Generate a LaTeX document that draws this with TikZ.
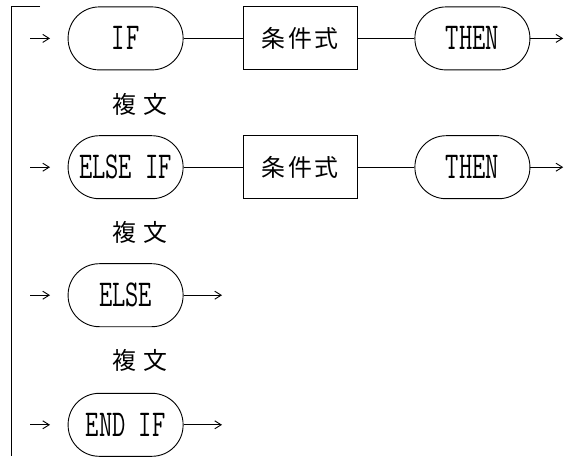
\documentclass[tikz,border=0pt]{standalone}
\usepackage{fontspec}
\newfontfamily\codefont[FakeStretch=0.68]{Latin Modern Mono}
\newfontfamily\jpfont{Noto Sans CJK JP}
\usetikzlibrary{arrows.meta, positioning}
\tikzset{
  keyword/.style={
    draw, rounded corners=7.8mm, line width=0.65pt,
    minimum width=2.875cm, minimum height=1.575cm, inner sep=0pt,
    font=\codefont\fontsize{27}{29}\selectfont
  },
  condbox/.style={
    draw, line width=0.65pt,
    minimum width=2.85cm, minimum height=1.575cm, inner sep=0pt,
    font=\jpfont\fontsize{17}{20}\selectfont
  },
  bodylabel/.style={
    font=\jpfont\fontsize{17}{20}\selectfont
  },
  flowline/.style={line width=0.65pt},
  flowarrow/.style={
    -{Straight Barb[length=1.6mm, width=2mm]}, line width=0.65pt
  },
}

\begin{document}
\begin{tikzpicture}
  \useasboundingbox (0,0) rectangle (14.15,-11.4);

  % ── Left bracket ───────────────────────────────────────────────
  \coordinate (brtop)  at (0.275,-0.15);
  \coordinate (brend)  at (1.0,-0.15);
  \coordinate (brfoot) at (0.275,-11.4);
  \draw[flowline] (brend) -- (brtop) -- (brfoot);

  % ── IF ... 条件式 ... THEN ─────────────────────────────────────
  \node[keyword] (if)    at (3.14,-0.96)  {I\kern1pt F};
  \node[condbox] (cond1) at (7.5,-0.96)   {条\kern2pt 件\kern2pt 式};
  \node[keyword] (then1) at (11.81,-0.96) {THEN};
  \coordinate (in1)  at (0.75,-0.96);
  \coordinate (in1e) at (1.25,-0.96);
  \coordinate (out1) at (14.08,-0.96);
  \draw[flowarrow] (in1) -- (in1e);
  \draw[flowline] (if) -- (cond1);
  \draw[flowline] (cond1) -- (then1);
  \draw[flowarrow] (then1) -- (out1);

  \node[bodylabel] (body1) at (3.5,-2.62) {複\kern5pt 文};

  % ── ELSE IF ... 条件式 ... THEN ────────────────────────────────
  \node[keyword] (elseif) at (3.14,-4.18)  {ELSE IF};
  \node[condbox] (cond2)  at (7.5,-4.18)   {条\kern2pt 件\kern2pt 式};
  \node[keyword] (then2)  at (11.81,-4.18) {THEN};
  \coordinate (in2)  at (0.75,-4.18);
  \coordinate (in2e) at (1.25,-4.18);
  \coordinate (out2) at (14.08,-4.18);
  \draw[flowarrow] (in2) -- (in2e);
  \draw[flowline] (elseif) -- (cond2);
  \draw[flowline] (cond2) -- (then2);
  \draw[flowarrow] (then2) -- (out2);

  \node[bodylabel] (body2) at (3.5,-5.8) {複\kern5pt 文};

  % ── ELSE ───────────────────────────────────────────────────────
  \node[keyword] (else) at (3.14,-7.38) {ELSE};
  \coordinate (in3)  at (0.75,-7.38);
  \coordinate (in3e) at (1.25,-7.38);
  \coordinate (out3) at (5.55,-7.38);
  \draw[flowarrow] (in3) -- (in3e);
  \draw[flowarrow] (else) -- (out3);

  \node[bodylabel] (body3) at (3.5,-9.0) {複\kern5pt 文};

  % ── END IF ─────────────────────────────────────────────────────
  \node[keyword] (endif) at (3.14,-10.62) {END IF};
  \coordinate (in4)  at (0.75,-10.62);
  \coordinate (in4e) at (1.25,-10.62);
  \coordinate (out4) at (5.55,-10.62);
  \draw[flowarrow] (in4) -- (in4e);
  \draw[flowarrow] (endif) -- (out4);
\end{tikzpicture}
\end{document}
